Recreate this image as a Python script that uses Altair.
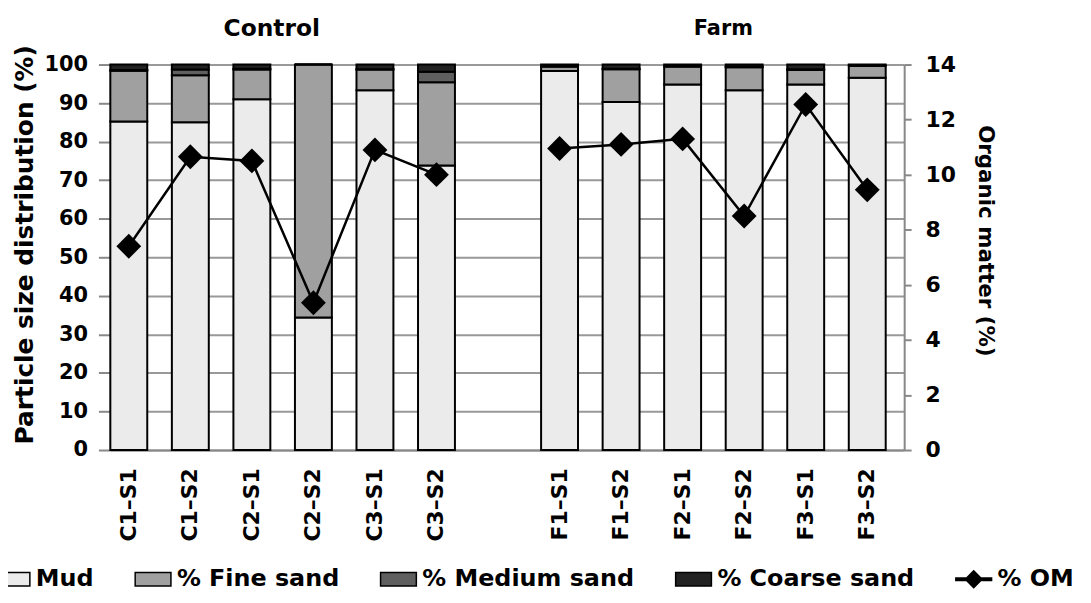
import altair as alt
import pandas as pd

samples = ["C1–S1", "C1–S2", "C2–S1", "C2–S2", "C3–S1", "C3–S2",
           "F1–S1", "F1–S2", "F2–S1", "F2–S2", "F3–S1", "F3–S2"]
site = ["Control"] * 6 + ["Farm"] * 6
mud = [85.2, 85.0, 91.0, 34.4, 93.3, 73.8, 98.3, 90.3, 94.8, 93.3, 94.8, 96.6]
fine = [13.2, 12.2, 7.7, 65.6, 5.4, 21.6, 1.2, 8.5, 4.7, 6.0, 3.8, 3.1]
medium = [0.2, 1.5, 0.2, 0.0, 0.1, 2.7, 0.0, 0.1, 0.0, 0.1, 0.2, 0.0]
coarse = [1.4, 1.3, 1.1, 0.0, 1.2, 1.9, 0.5, 1.1, 0.5, 0.6, 1.2, 0.3]
om = [7.4, 10.65, 10.5, 5.35, 10.9, 10.0, 10.95, 11.1, 11.3, 8.5, 12.55, 9.45]

fractions = ["Mud", "% Fine sand", "% Medium sand", "% Coarse sand"]
legend_domain = fractions + ["% OM"]
colors = ["#ebebeb", "#a0a0a0", "#5f5f5f", "#222222", "#000000"]

group_titles = ["Control", "Farm"]
group_anchor = ["C2–S1", "F2–S1"]

rows = []
for i, s in enumerate(samples):
    for j, (f, vals) in enumerate(zip(fractions, [mud, fine, medium, coarse])):
        rows.append({"Sample": s, "Fraction": f, "Value": vals[i], "Order": j})
bars_df = pd.DataFrame(rows)
om_df = pd.DataFrame({"Sample": samples, "Site": site, "OM": om,
                      "Fraction": ["% OM"] * len(samples)})

x_domain = samples[:6] + [" "] + samples[6:]
x_scale = alt.Scale(domain=x_domain, paddingInner=0.4, paddingOuter=0.15, align=0)

FONT = "DejaVu Sans"
rect_path = "M-1,-0.38L1,-0.38L1,0.38L-1,0.38Z"
om_path = ("M-1,-0.07L-0.4,-0.07L0,-0.47L0.4,-0.07L1,-0.07L1,0.07L0.4,0.07"
           "L0,0.47L-0.4,0.07L-1,0.07Z")

x_axis = alt.Axis(title=None, labelAngle=-90, ticks=False, domainColor="#888888",
                  domainWidth=2, labelFont=FONT, labelFontWeight="bold",
                  labelFontSize=22, labelColor="black", labelPadding=18)

bars = alt.Chart(bars_df).mark_bar(stroke="black", strokeWidth=2).encode(
    x=alt.X("Sample:N", scale=x_scale, axis=x_axis),
    y=alt.Y("Value:Q", stack="zero",
            scale=alt.Scale(domain=[0, 100], nice=False),
            axis=alt.Axis(values=list(range(0, 101, 10)),
                          title="Particle size distribution (%)",
                          titleFont=FONT, titleFontSize=25, titleFontWeight="bold",
                          titleColor="black", titlePadding=7, titleY=181,
                          labelFont=FONT, labelFontSize=21, labelFontWeight="bold",
                          labelColor="black", labelPadding=11,
                          tickColor="#888888", tickSize=12, tickWidth=2,
                          domainColor="#888888", domainWidth=2,
                          grid=True, gridColor="#999999", gridWidth=2)),
    color=alt.Color("Fraction:N",
                    scale=alt.Scale(domain=legend_domain, range=colors),
                    legend=alt.Legend(title=None, orient="none", direction="horizontal",
                                      legendX=-118, legendY=499,
                                      symbolType={"expr": "datum.value === '% OM' ? '" + om_path + "' : '" + rect_path + "'"},
                                      symbolSize=1296, symbolStrokeColor="black",
                                      symbolStrokeWidth=1.5, symbolOpacity=1,
                                      labelFont=FONT, labelFontSize=24,
                                      labelFontWeight="bold", labelColor="black",
                                      labelLimit=400, labelOffset=5, columnPadding=38)),
    order=alt.Order("Order:Q"),
)

line = alt.Chart(om_df).mark_line(color="black", strokeWidth=2.5).encode(
    x=alt.X("Sample:N", scale=x_scale, axis=x_axis),
    y=alt.Y("OM:Q", scale=alt.Scale(domain=[0, 14], nice=False),
            axis=alt.Axis(orient="right", values=list(range(0, 15, 2)),
                          title="Organic matter (%)", titleAngle=90,
                          titleFont=FONT, titleFontSize=21.5, titleFontWeight="bold",
                          titleColor="black", titlePadding=18, titleY=177,
                          labelFont=FONT, labelFontSize=22, labelFontWeight="bold",
                          labelColor="black", labelPadding=14,
                          tickColor="#888888", tickSize=7, tickWidth=2,
                          domainColor="#888888", domainWidth=2, grid=False)),
    detail="Site:N",
)

points = alt.Chart(om_df).mark_point(filled=True, size=625, shape="diamond",
                                     opacity=1).encode(
    x=alt.X("Sample:N", scale=x_scale, axis=x_axis),
    y=alt.Y("OM:Q"),
    color=alt.Color("Fraction:N"),
)

titles_df = pd.DataFrame({"Sample": group_anchor, "Label": group_titles})
t_control = alt.Chart(titles_df.iloc[[0]]).mark_text(
    font=FONT, fontSize=23.5, fontWeight="bold", color="black", dx=20,
    baseline="middle").encode(
    x=alt.X("Sample:N", scale=x_scale, axis=x_axis),
    y=alt.value(-36), text="Label:N")
t_farm = alt.Chart(titles_df.iloc[[1]]).mark_text(
    font=FONT, fontSize=21, fontWeight="bold", color="black", dx=41,
    baseline="middle").encode(
    x=alt.X("Sample:N", scale=x_scale, axis=x_axis),
    y=alt.value(-36), text="Label:N")

chart = alt.layer(bars, alt.layer(line, points), t_control, t_farm).resolve_scale(
    y="independent"
).properties(
    width=799, height=388,
    autosize=alt.AutoSizeParams(type="none"),
    padding={"left": 103, "top": 55, "right": 180, "bottom": 143},
).configure_view(stroke=None).configure(background="white")

chart.save("out.html", embed_options={"renderer": "svg", "actions": False})
